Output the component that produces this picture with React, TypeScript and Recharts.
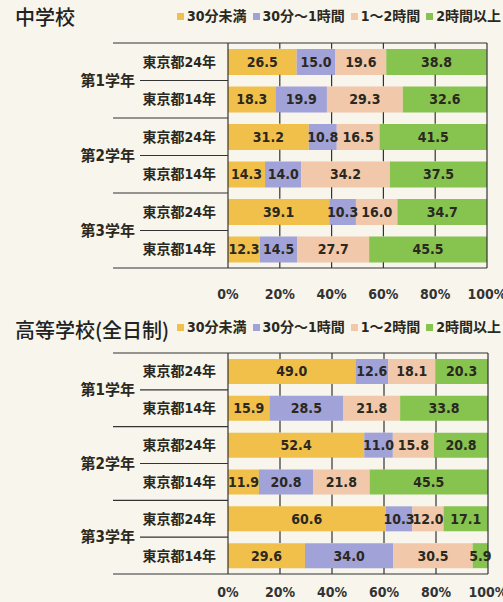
import React from 'react';
import { BarChart, Bar, XAxis, YAxis, LabelList } from 'recharts';

const grades = ['第1学年', '第2学年', '第3学年'];
const surveys = ['東京都24年', '東京都14年'];
const seriesNames = ['30分未満', '30分～1時間', '1～2時間', '2時間以上'];
const seriesKeys = ['s0', 's1', 's2', 's3'];
const seriesColors = ['#f1c04a', '#a0a2d8', '#f1c8aa', '#86c34f'];
const percentTicks = [0, 20, 40, 60, 80, 100];

// 中学校
const jhUnder30 = [26.5, 18.3, 31.2, 14.3, 39.1, 12.3];
const jh30to60 = [15.0, 19.9, 10.8, 14.0, 10.3, 14.5];
const jh1to2 = [19.6, 29.3, 16.5, 34.2, 16.0, 27.7];
const jhOver2 = [38.8, 32.6, 41.5, 37.5, 34.7, 45.5];

// 高等学校(全日制)
const hsUnder30 = [49.0, 15.9, 52.4, 11.9, 60.6, 29.6];
const hs30to60 = [12.6, 28.5, 11.0, 20.8, 10.3, 34.0];
const hs1to2 = [18.1, 21.8, 15.8, 21.8, 12.0, 30.5];
const hsOver2 = [20.3, 33.8, 20.8, 45.5, 17.1, 5.9];

const FONT = "'DejaVu Sans Condensed', 'Noto Sans CJK JP', sans-serif";
const INK = '#2a2820';
const RULE = '#333';

const makeRows = (series: number[][]) =>
  series[0].map((_, i) => ({
    id: `r${i}`,
    grade: grades[Math.floor(i / 2)],
    survey: surveys[i % 2],
    s0: series[0][i],
    s1: series[1][i],
    s2: series[2][i],
    s3: series[3][i],
  }));

const jhRows = makeRows([jhUnder30, jh30to60, jh1to2, jhOver2]);
const hsRows = makeRows([hsUnder30, hs30to60, hs1to2, hsOver2]);

const LegendBox = ({ top }: { top: number }) => (
  <div
    style={{
      position: 'absolute',
      left: 177,
      top,
      display: 'flex',
      alignItems: 'center',
      whiteSpace: 'nowrap',
      fontFamily: FONT,
      fontWeight: 700,
      fontSize: 14,
      lineHeight: '20px',
      color: INK,
    }}
  >
    {seriesNames.map((name, i) => (
      <span key={name} style={{ display: 'inline-flex', alignItems: 'center', marginRight: 6 }}>
        <span style={{ width: 7, height: 7, background: seriesColors[i], marginRight: 3, display: 'inline-block' }} />
        {name}
      </span>
    ))}
  </div>
);

interface PanelProps {
  rows: ReturnType<typeof makeRows>;
  top: number;
  height: number;
  axisHeight: number;
  right: number;
  barSize: number;
  tickGap: number;
}

const Panel = ({ rows, top, height, axisHeight, right, barSize, tickGap }: PanelProps) => {
  const plotTop = 43;
  const plotBottom = height - axisHeight;
  const band = (plotBottom - plotTop) / rows.length;
  const pad = (band - barSize) / 2;
  const plotRight = 503 - right;

  // vertical rules only show in the white gaps between bars
  const gaps = Array.from({ length: rows.length + 1 }, (_, j) => [
    j === 0 ? plotTop : plotTop + j * band - pad,
    j === rows.length ? plotBottom : plotTop + j * band + pad,
  ]);

  const renderXTick = (p: any) => {
    const { x, payload } = p;
    const v = payload.value;
    return (
      <g>
        {v === 100 && <line x1={x} x2={x} y1={plotTop} y2={plotBottom} stroke={RULE} strokeWidth={1.2} />}
        {v > 0 &&
          v < 100 &&
          gaps.map(([y1, y2], j) => <line key={j} x1={x} x2={x} y1={y1} y2={y2} stroke={RULE} strokeWidth={1.2} />)}
        <text
          x={x}
          y={plotBottom + tickGap}
          textAnchor="middle"
          dominantBaseline="central"
          fontFamily={FONT}
          fontWeight={700}
          fontSize={14}
          fill="#333"
        >
          {`${v}%`}
        </text>
      </g>
    );
  };

  // row labels, group labels and the separator rules on the left
  const renderYTick = (p: any) => {
    const { y, index } = p;
    const row = rows[index];
    const rowTop = y - band / 2;
    const last = index === rows.length - 1;
    return (
      <g>
        {index % 2 === 0 ? (
          <line x1={113} x2={index === 0 ? plotRight : 228} y1={rowTop} y2={rowTop} stroke={RULE} strokeWidth={1.2} />
        ) : (
          <>
            <line x1={140} x2={228} y1={rowTop} y2={rowTop} stroke={RULE} strokeWidth={1.2} />
            <text x={135} y={rowTop} textAnchor="end" dominantBaseline="central" fontFamily={FONT} fontWeight={700} fontSize={15} fill={INK}>
              {row.grade}
            </text>
          </>
        )}
        {last && <line x1={113} x2={plotRight} y1={y + band / 2} y2={y + band / 2} stroke={RULE} strokeWidth={1.2} />}
        <text x={216} y={y} textAnchor="end" dominantBaseline="central" fontFamily={FONT} fontWeight={700} fontSize={14} fill={INK}>
          {row.survey}
        </text>
      </g>
    );
  };

  return (
    <div style={{ position: 'absolute', left: 0, top }}>
      <BarChart
        width={503}
        height={height}
        data={rows}
        layout="vertical"
        margin={{ top: plotTop, right, left: 0, bottom: 0 }}
        barSize={barSize}
      >
        <XAxis
          type="number"
          domain={[0, 100]}
          ticks={percentTicks}
          allowDataOverflow
          axisLine={false}
          tickLine={false}
          height={axisHeight}
          interval={0}
          tick={renderXTick}
        />
        <YAxis
          type="category"
          dataKey="id"
          width={228}
          axisLine={{ stroke: RULE, strokeWidth: 1.2 }}
          tickLine={false}
          interval={0}
          tick={renderYTick}
        />
        {seriesKeys.map((key, i) => (
          <Bar key={key} dataKey={key} name={seriesNames[i]} stackId="a" fill={seriesColors[i]} isAnimationActive={false}>
            <LabelList
              dataKey={key}
              position="center"
              formatter={(v: any) => Number(v).toFixed(1)}
              fill={INK}
              fontSize={14}
              fontWeight={700}
              fontFamily={FONT}
            />
          </Bar>
        ))}
      </BarChart>
    </div>
  );
};

const titleStyle: React.CSSProperties = {
  position: 'absolute',
  left: 15,
  fontFamily: "'Noto Sans CJK JP', sans-serif",
  fontWeight: 500,
  fontSize: 20,
  color: '#222',
  lineHeight: '24px',
  whiteSpace: 'nowrap',
};

export default function App() {
  return (
    <div style={{ position: 'absolute', left: 0, top: 0, width: 503, height: 602, background: '#f7f5ec', overflow: 'hidden' }}>
      <div style={{ ...titleStyle, top: 5 }}>中学校</div>
      <div style={{ ...titleStyle, top: 318 }}>高等学校(全日制)</div>
      <Panel rows={jhRows} top={0} height={310} axisHeight={42} right={16} barSize={26} tickGap={26} />
      <Panel rows={hsRows} top={310} height={292} axisHeight={28} right={15} barSize={25} tickGap={18} />
      <LegendBox top={6} />
      <LegendBox top={317} />
    </div>
  );
}
